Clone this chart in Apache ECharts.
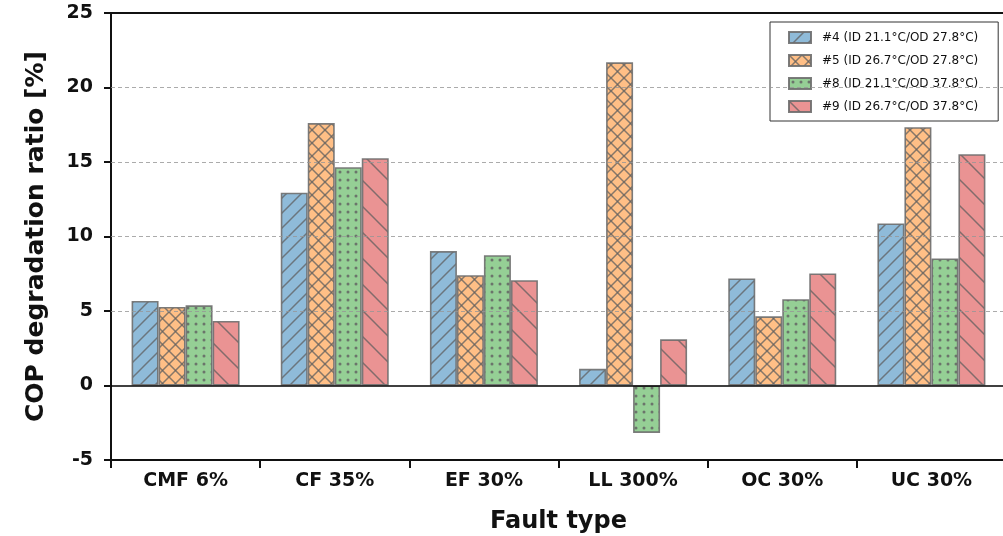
<!DOCTYPE html>
<html>
<head>
<meta charset="utf-8">
<script src="https://cdn.jsdelivr.net/npm/echarts@6/dist/echarts.min.js"></script>
<style>
html,body{margin:0;padding:0;background:#fff;}
#chart{width:1003px;height:536px;}
</style>
</head>
<body>
<div id="chart"></div>
<script>
const categories = ['CMF 6%', 'CF 35%', 'EF 30%', 'LL 300%', 'OC 30%', 'UC 30%'];
const seriesNames = ['#4 (ID 21.1°C/OD 27.8°C)', '#5 (ID 26.7°C/OD 27.8°C)', '#8 (ID 21.1°C/OD 37.8°C)', '#9 (ID 26.7°C/OD 37.8°C)'];
const s4 = [5.67, 12.94, 9.02, 1.12, 7.18, 10.88];
const s5 = [5.27, 17.61, 7.40, 21.69, 4.64, 17.34];
const s8 = [5.38, 14.65, 8.75, -3.18, 5.79, 8.53];
const s9 = [4.33, 15.26, 7.07, 3.10, 7.52, 15.52];
const yTicks = [-5, 0, 5, 10, 15, 20, 25];
const gridValues = [5, 10, 15, 20];
const zeroValue = [0];

const baseColors = ['#8fbbd9', '#ffbf86', '#95cf95', '#ea9393'];
const hatchColor = 'rgba(95,95,95,0.75)';

function makeTile(kind, base) {
  let s = kind === 'slash' ? 15 : kind === 'back' ? 26 : kind === 'cross' ? 13 : 8;
  const c = document.createElement('canvas');
  c.width = s; c.height = s;
  const g = c.getContext('2d');
  g.fillStyle = base; g.fillRect(0, 0, s, s);
  g.strokeStyle = hatchColor; g.fillStyle = hatchColor; g.lineWidth = 1.5;
  function ln(x1, y1, x2, y2) { g.beginPath(); g.moveTo(x1, y1); g.lineTo(x2, y2); g.stroke(); }
  if (kind === 'slash' || kind === 'cross') {
    ln(-1, s + 1, s + 1, -1); ln(-1, 1, 1, -1); ln(s - 1, s + 1, s + 1, s - 1);
  }
  if (kind === 'back' || kind === 'cross') {
    ln(-1, -1, s + 1, s + 1); ln(-1, s - 1, 1, s + 1); ln(s - 1, -1, s + 1, 1);
  }
  if (kind === 'dot') {
    g.fillStyle = 'rgba(100,100,100,0.85)';
    g.beginPath(); g.arc(s / 2, s / 2, 1.5, 0, Math.PI * 2); g.fill();
  }
  return { image: c, repeat: 'repeat' };
}
const kinds = ['slash', 'cross', 'dot', 'back'];
const dataSets = [s4, s5, s8, s9];

const font = '"DejaVu Sans", Verdana, sans-serif';

const series = dataSets.map((d, i) => ({
  name: seriesNames[i],
  type: 'bar',
  data: d,
  barWidth: 27,
  barGap: '0%',
  itemStyle: {
    color: makeTile(kinds[i], baseColors[i]),
    borderColor: 'rgba(110,110,110,0.9)',
    borderWidth: 1.6
  }
}));
series[3].markLine = {
  silent: true,
  symbol: 'none',
  label: { show: false },
  z: 10,
  data: gridValues.map(v => ({ yAxis: v, lineStyle: { color: 'rgba(150,150,150,0.8)', type: [4, 3], width: 1 } }))
    .concat(zeroValue.map(v => ({ yAxis: v, lineStyle: { color: '#000', type: 'solid', width: 1.5 } })))
};

const chart = echarts.init(document.getElementById('chart'), null, { renderer: 'canvas' });
chart.setOption({
  animation: false,
  backgroundColor: '#fff',
  grid: { left: 111, top: 13, width: 895, bottom: 76, containLabel: false, outerBoundsMode: 'none' },
  legend: {
    orient: 'vertical',
    left: 770, top: 22,
    padding: [9, 20, 8, 18],
    itemWidth: 22, itemHeight: 11, itemGap: 10,
    icon: 'rect',
    borderColor: '#333', borderWidth: 1, backgroundColor: '#fff',
    textStyle: { fontFamily: font, fontSize: 12, color: '#111', padding: [0, 0, 0, 6] },
    data: seriesNames
  },
  xAxis: [{
    type: 'category',
    data: categories,
    name: 'Fault type',
    nameLocation: 'middle',
    nameGap: 50,
    nameTextStyle: { fontFamily: font, fontWeight: 'bold', fontSize: 24, color: '#111' },
    axisLine: { onZero: false, lineStyle: { color: '#111', width: 2 } },
    axisTick: { show: true, length: 8, lineStyle: { color: '#111', width: 2 } },
    axisLabel: { fontFamily: font, fontWeight: 'bold', fontSize: 19, color: '#111', margin: 12 },
    splitLine: { show: false }
  }, {
    type: 'category',
    data: categories,
    position: 'top',
    axisLine: { onZero: false, lineStyle: { color: '#111', width: 2 } },
    axisTick: { show: false },
    axisLabel: { show: false }
  }],
  yAxis: {
    type: 'value',
    min: yTicks[0], max: yTicks[yTicks.length - 1], interval: 5,
    name: 'COP degradation ratio [%]',
    nameLocation: 'middle',
    nameGap: 62,
    nameTextStyle: { fontFamily: font, fontWeight: 'bold', fontSize: 25, color: '#111' },
    axisLine: { show: true, lineStyle: { color: '#111', width: 2 } },
    axisTick: { show: true, length: 7, lineStyle: { color: '#111', width: 2 } },
    axisLabel: { fontFamily: font, fontWeight: 'bold', fontSize: 19, color: '#111', margin: 18 },
    splitLine: { show: false }
  },
  series: series
});
</script>
</body>
</html>
